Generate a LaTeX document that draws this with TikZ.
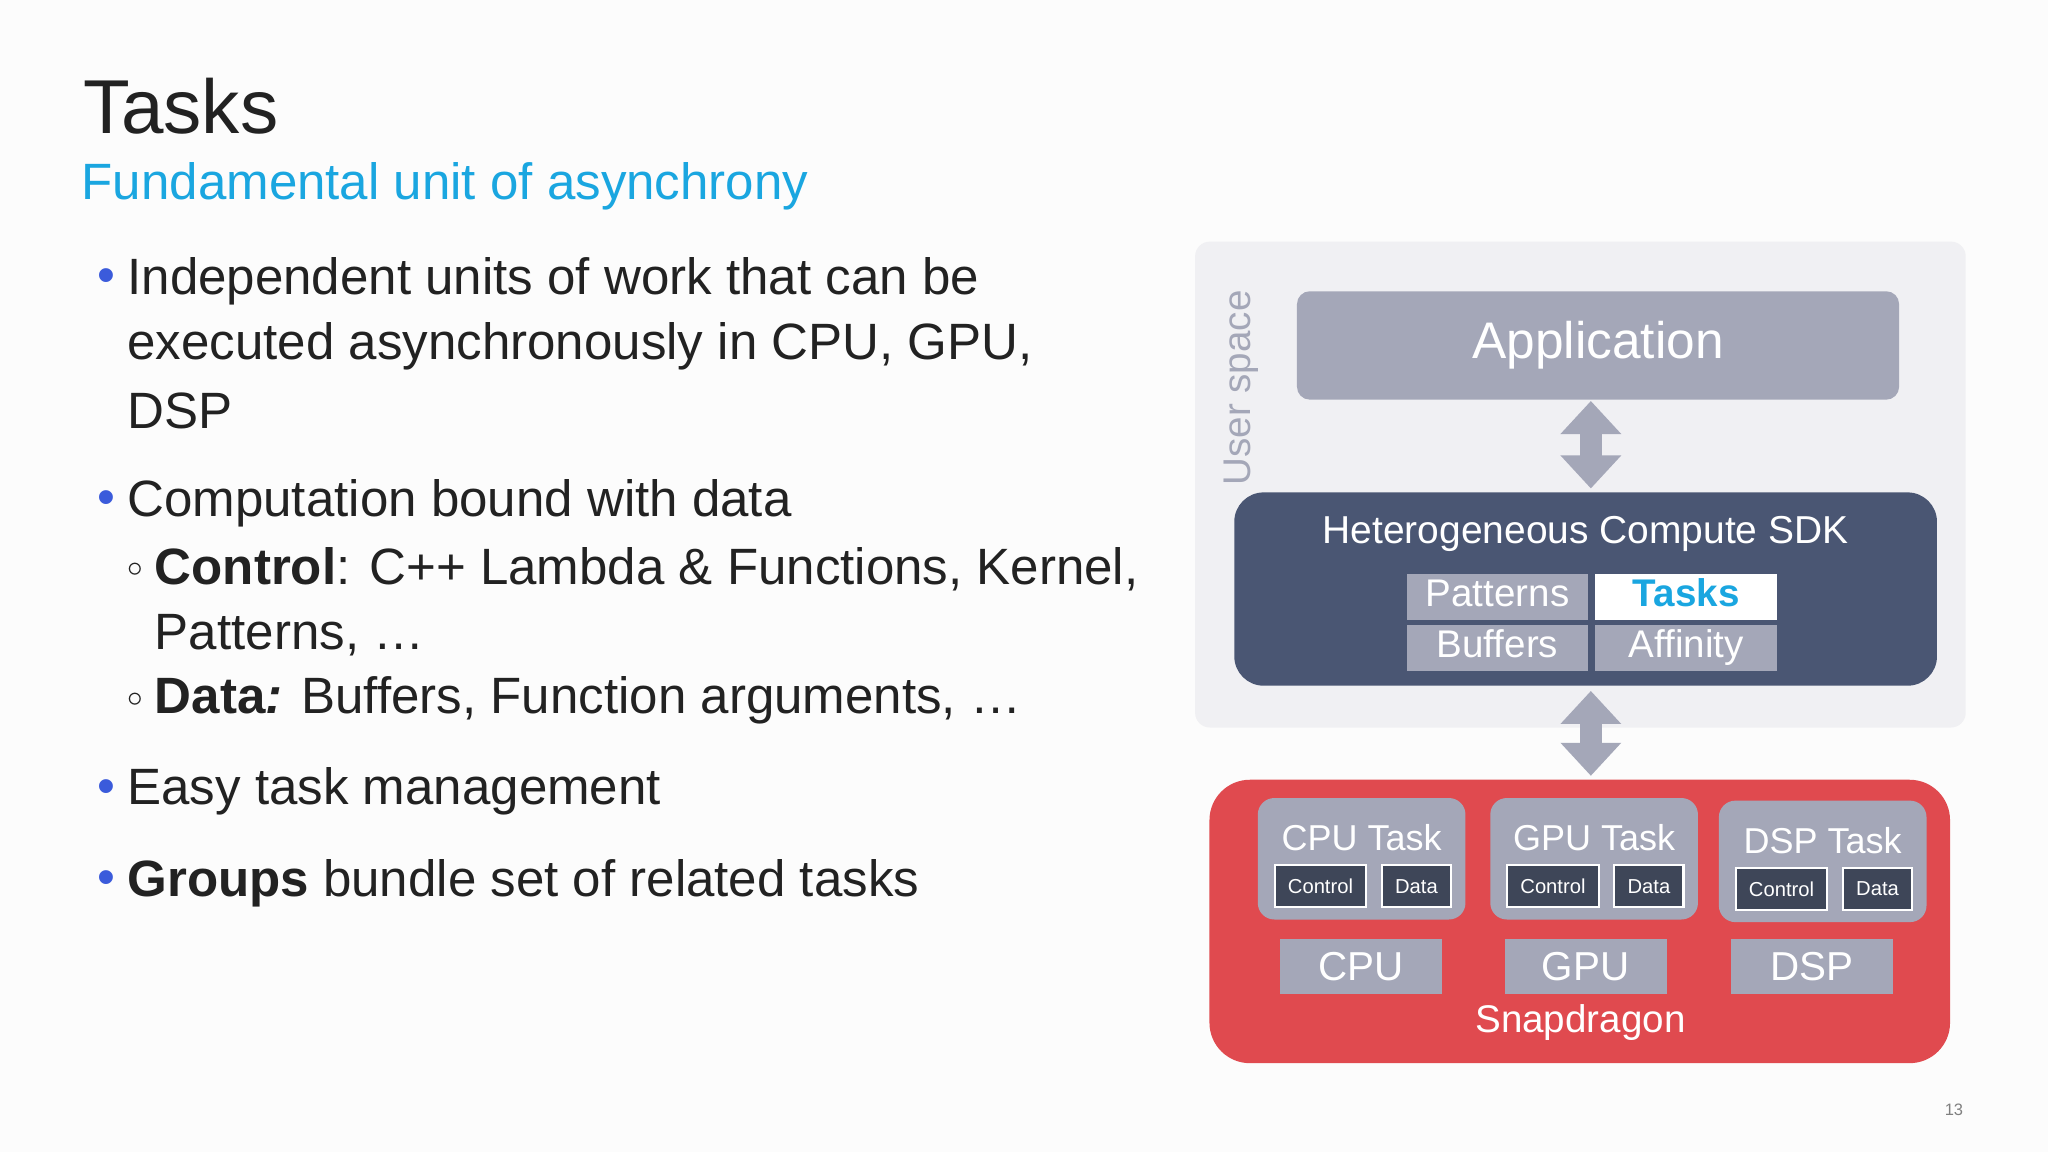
\documentclass[tikz,border=0pt]{standalone}
\usepackage{fontspec}
\setmainfont{Liberation Sans}
\usetikzlibrary{arrows.meta}
\definecolor{lgrey}{HTML}{F0F0F3}
\definecolor{boxgrey}{HTML}{A4A7B8}
\definecolor{sdkblue}{HTML}{4A5673}
\definecolor{snapred}{HTML}{E04A4F}
\definecolor{cyanT}{HTML}{1AA6E0}
\definecolor{bulblue}{HTML}{3B5BDB}
\definecolor{txt}{HTML}{222222}
\definecolor{ctrl}{HTML}{3E4658}
\begin{document}
\begin{tikzpicture}[x=0.0125cm,y=-0.0125cm,
 fs/.style={font=\fontsize{#1}{#1}\selectfont},
 gbox/.style={fill=boxgrey,draw=none},
 body/.style={anchor=west,text=txt,inner sep=0,fs=13.9},
 dot/.style={anchor=west,text=bulblue,inner sep=0,fs=13.9},
 cbox/.style={fill=ctrl,draw=white,line width=0.6pt,text=white,fs=5.5,inner sep=0},
 darr/.style={draw=boxgrey,line width=6pt,{Triangle[length=9pt,width=16pt]}-{Triangle[length=9pt,width=16pt]}}]
\useasboundingbox (0,0) rectangle (1568,882);
\fill[white!98!gray] (0,0) rectangle (1568,882);
% title
\node[anchor=base west,inner sep=0,text=txt,fs=20.8] (title) at (63,102) {Tasks};
\node[anchor=base west,inner sep=0,text=cyanT,fs=13.9] (sub) at (62,153) {Fundamental unit of asynchrony};
% bullets
\node[dot] (b1) at (74,215) {•};
\node[body] (t1a) at (97,215) {Independent units of work that can be};
\node[body] (t1b) at (97,265) {executed asynchronously in CPU, GPU,};
\node[body] (t1c) at (97,315) {DSP};
\node[dot] (b2) at (74,385) {•};
\node[body] (t2) at (97,385) {Computation bound with data};
\node[body,fs=8] (s1) at (97,436) {$\circ$};
\node[body] (t3a) at (118,436) {\textbf{Control}: C++ Lambda \& Functions, Kernel,};
\node[body] (t3b) at (118,486) {Patterns, …};
\node[body,fs=8] (s2) at (97,536) {$\circ$};
\node[body] (t4) at (118,536) {\textbf{Data\textit{:}} Buffers, Function arguments, …};
\node[dot] (b3) at (74,606) {•};
\node[body] (t5) at (97,606) {Easy task management};
\node[dot] (b4) at (74,676) {•};
\node[body] (t6) at (97,676) {\textbf{Groups} bundle set of related tasks};
% user space
\fill[lgrey,rounded corners=4pt] (915,185) rectangle (1505,557);
\node[rotate=90,text=boxgrey,fs=10.5,inner sep=0] (us) at (950,297) {User space};
\node[gbox,rounded corners=3.5pt,minimum width=461*0.0125cm,minimum height=83*0.0125cm,text=white,fs=14] (app) at (1223.5,264.5) {Application};
\node[fill=sdkblue,rounded corners=8pt,minimum width=538*0.0125cm,minimum height=148*0.0125cm] (sdk) at (1214,451) {};
\node[text=white,fs=10.6,inner sep=0] (sdkt) at (1214,409) {Heterogeneous Compute SDK};
\tikzset{sb/.style={gbox,minimum width=139*0.0125cm,minimum height=35*0.0125cm,inner sep=0,text=white,fs=10.5,text depth=0.25em,text height=0.75em}}
\node[sb] (pat) at (1146.5,457) {Patterns};
\node[sb,fill=white,text=cyanT,font=\bfseries\fontsize{10.5}{10.5}\selectfont] (tasks) at (1291,457) {Tasks};
\node[sb] (buf) at (1146.5,496) {Buffers};
\node[sb] (aff) at (1291,496) {Affinity};
\draw[darr] (1218,307) -- (1218,374);
% red
\node[fill=snapred,rounded corners=11pt,minimum width=567*0.0125cm,minimum height=217*0.0125cm] (snap) at (1209.5,705.5) {};
\draw[darr] (1218,529) -- (1218,594);
\foreach \n/\cx/\cy in {CPU/1042.5/657.5,GPU/1220.5/657.5,DSP/1395.5/659.5}{
 \node[gbox,rounded corners=4.5pt,minimum width=159*0.0125cm,minimum height=93*0.0125cm] (\n task) at (\cx,\cy) {};
 \node[text=white,fs=9.8,inner sep=0] (\n tt) at (\cx,\cy-16) {\n\ Task};
 \node[cbox,minimum width=70*0.0125cm,minimum height=32*0.0125cm] (\n c) at (\cx-31.5,\cy+21) {Control};
 \node[cbox,minimum width=53*0.0125cm,minimum height=32*0.0125cm] (\n d) at (\cx+42,\cy+21) {Data};
}
\node[gbox,minimum width=124*0.0125cm,minimum height=42*0.0125cm,text=white,fs=11] (cpu) at (1042,740) {CPU};
\node[gbox,minimum width=124*0.0125cm,minimum height=42*0.0125cm,text=white,fs=11] (gpu) at (1214,740) {GPU};
\node[gbox,minimum width=124*0.0125cm,minimum height=42*0.0125cm,text=white,fs=11] (dsp) at (1387,740) {DSP};
\node[text=white,fs=10.5,inner sep=0] (sd) at (1210,783) {Snapdragon};
\node[text=gray,fs=4.5,inner sep=0] (pg) at (1496,850) {13};
\end{tikzpicture}
\end{document}
